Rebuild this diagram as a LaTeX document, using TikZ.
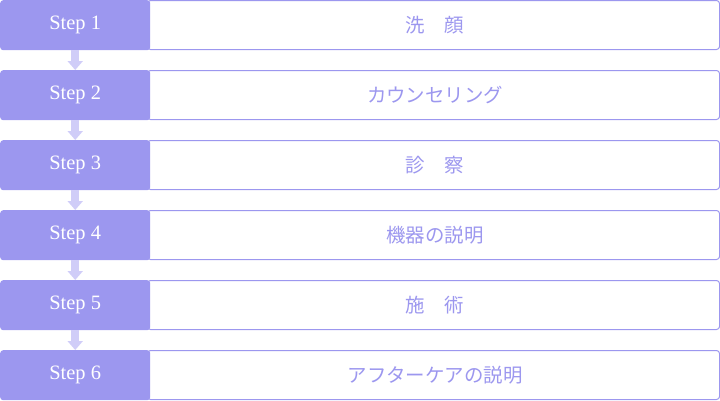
\documentclass[tikz,border=0pt]{standalone}
\usepackage{fontspec}
\newfontfamily\jpfont{Noto Sans CJK JP}
\newfontfamily\stepfont{Liberation Serif}
\usetikzlibrary{arrows.meta}
\definecolor{stepfill}{RGB}{156,151,239}
\definecolor{flowarrow}{RGB}{208,205,248}

\begin{document}
\begin{tikzpicture}[x=1bp,y=-1bp]
            \tikzset{
              taskbox/.style={draw=stepfill, line width=1bp, fill=white, rounded corners=3bp,
                minimum width=572bp, minimum height=49bp, inner sep=0pt, anchor=north west,
                text=stepfill, font=\jpfont\fontsize{19.5}{22}\selectfont},
              stepbox/.style={fill=stepfill, rounded corners=3bp, minimum width=150bp,
                minimum height=50bp, inner sep=0pt, anchor=north west,
                text=white, font=\stepfont\fontsize{20.5}{22}\selectfont},
              flow/.style={draw=flowarrow, line width=8bp, -{Triangle[width=15bp,length=9bp]}}
            }
            \useasboundingbox (0,0) rectangle (720,400);
            \node [taskbox] (task1) at (147,0) {\hspace*{3bp}洗　顔};
            \node [taskbox] (task2) at (147,70) {\hspace*{3bp}カウンセリング};
            \node [taskbox] (task3) at (147,140) {\hspace*{3bp}診　察};
            \node [taskbox] (task4) at (147,210) {\hspace*{3bp}機器の説明};
            \node [taskbox] (task5) at (147,280) {\hspace*{3bp}施　術};
            \node [taskbox] (task6) at (147,350) {\hspace*{3bp}アフターケアの説明};
            \node [stepbox] (step1) at (0,0) {Step 1};
            \node [stepbox] (step2) at (0,70) {Step 2};
            \node [stepbox] (step3) at (0,140) {Step 3};
            \node [stepbox] (step4) at (0,210) {Step 4};
            \node [stepbox] (step5) at (0,280) {Step 5};
            \node [stepbox] (step6) at (0,350) {Step 6};
            \draw [flow] (step1.south) -- (step2.north);
            \draw [flow] (step2.south) -- (step3.north);
            \draw [flow] (step3.south) -- (step4.north);
            \draw [flow] (step4.south) -- (step5.north);
            \draw [flow] (step5.south) -- (step6.north);
        \end{tikzpicture}
\end{document}
